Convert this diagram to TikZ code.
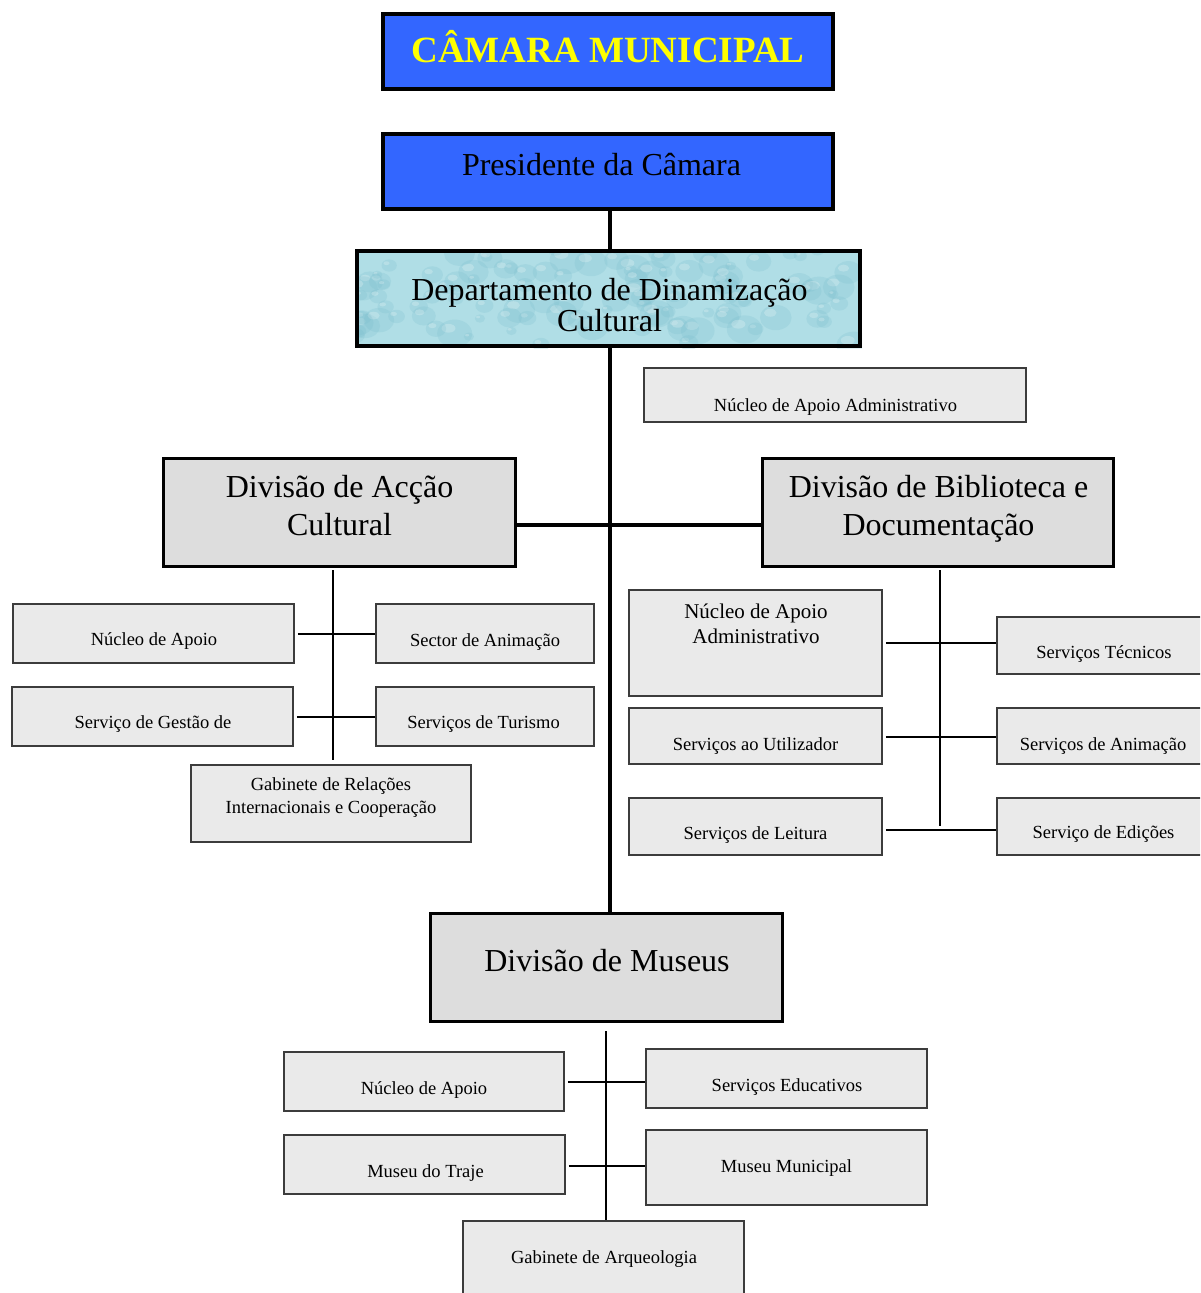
\documentclass[tikz,border=0pt]{standalone}
\usepackage{fontspec}
\setmainfont{Liberation Serif}
\definecolor{cmblue}{RGB}{51,102,255}
\definecolor{cmyellow}{RGB}{255,255,0}
\definecolor{boxgray}{RGB}{234,234,234}
\definecolor{divgray}{RGB}{221,221,221}
\definecolor{edgegray}{RGB}{60,60,60}
\definecolor{deptcyan}{RGB}{176,222,230}
\definecolor{deptdark}{RGB}{120,188,204}
\newcommand{\mlines}[1]{\begin{tabular}[t]{@{}c@{}}#1\end{tabular}}
\begin{document}
\begin{tikzpicture}[x=1pt,y=-1pt,
  topbox/.style={draw=black, line width=4pt, fill=cmblue, inner sep=0pt, minimum width=450pt, minimum height=75pt},
  divbox/.style={draw=black, line width=3.5pt, fill=divgray, inner sep=0pt, minimum width=352pt, minimum height=108pt},
  subbox/.style={draw=edgegray, line width=1.5pt, fill=boxgray, inner sep=0pt},
  txt/.style={inner sep=0pt, anchor=base},
  smallfont/.style={font=\fontsize{18.5}{23}\selectfont},
  bigfont/.style={font=\fontsize{32}{38}\selectfont},
  trunk/.style={draw=black, line width=4pt},
  link/.style={draw=black, line width=2pt}]
\useasboundingbox (0,0) rectangle (1200,1293);
\clip (0,0) rectangle (1200,1293);
\fill[white] (0,0) rectangle (1200,1293);

% ---- top boxes
\node[topbox] (cam) at (608,51.5) {};
\node[txt, text=cmyellow, font=\bfseries\fontsize{37}{44}\selectfont] (camt) at (608,62) {CÂMARA MUNICIPAL};
\node[topbox] (pres) at (608,171.5) {};
\node[txt, bigfont] (prest) at (601.5,175) {Presidente da Câmara};

% ---- department box with water texture
\begin{scope}
  \clip (355,249) rectangle (862,348);
  \fill[deptcyan] (355,249) rectangle (862,348);
  \pgfmathsetseed{11}
  \foreach \i in {1,...,110}{
    \pgfmathsetmacro{\cx}{355+507*rnd}
    \pgfmathsetmacro{\cy}{249+99*rnd}
    \pgfmathsetmacro{\rr}{5+13*rnd}
    \fill[deptdark, opacity=0.22] (\cx,\cy) ellipse ({\rr pt} and {0.8*\rr pt});
    \fill[white, opacity=0.22] (\cx-0.35*\rr,\cy-0.3*\rr) ellipse ({0.4*\rr pt} and {0.25*\rr pt});
  }
\end{scope}
\node[draw=black, line width=4pt, inner sep=0pt, minimum width=503pt, minimum height=95pt] (dept) at (608.5,298.5) {};
\node[txt, font=\fontsize{32}{29.5}\selectfont] (deptt) at (609.5,300) {\mlines{Departamento de Dinamização\\Cultural}};

\draw[trunk] (pres.south -| 610,0) -- (dept.north -| 610,0);

% ---- top support box
\node[subbox, minimum width=382pt, minimum height=54pt] (nap) at (835,395) {};
\node[txt, smallfont] (napt) at (835.5,411) {Núcleo de Apoio Administrativo};

% ---- divisions
\node[divbox] (dac) at (339.5,512.5) {};
\node[txt, bigfont] (dact) at (339.5,497) {\mlines{Divisão de Acção\\Cultural}};
\node[divbox, minimum width=351pt] (dbd) at (938,512.5) {};
\node[txt, bigfont] (dbdt) at (938.5,497) {\mlines{Divisão de Biblioteca e\\Documentação}};
\node[divbox] (mus) at (606.5,967.5) {};
\node[txt, bigfont] (must) at (607,971) {Divisão de Museus};

\draw[trunk] (dept.south -| 610,0) -- (mus.north -| 610,0);
\draw[trunk] ([yshift=-12.5pt]dac.east) -- ([yshift=-12.5pt]dbd.west);

% ---- Divisão de Acção Cultural subtree
\node[subbox, minimum width=281pt, minimum height=59pt] (l1) at (153.5,633.5) {};
\node[txt, smallfont] (l1t) at (154,645) {Núcleo de Apoio};
\node[subbox, minimum width=218pt, minimum height=59pt] (l2) at (485,633.5) {};
\node[txt, smallfont] (l2t) at (485,646) {Sector de Animação};
\node[subbox, minimum width=281pt, minimum height=59pt] (l3) at (152.5,716.5) {};
\node[txt, smallfont] (l3t) at (153,728) {Serviço de Gestão de};
\node[subbox, minimum width=218pt, minimum height=59pt] (l4) at (485,716.5) {};
\node[txt, smallfont] (l4t) at (483.5,728) {Serviços de Turismo};
\node[subbox, minimum width=280pt, minimum height=77pt] (l5) at (331,803.5) {};
\node[txt, smallfont] (l5t) at (331,790) {\mlines{Gabinete de Relações\\Internacionais e Cooperação}};

\coordinate (lvtop) at (333,570);
\coordinate (lvbot) at (333,760);
\draw[link] (lvtop) -- (lvbot);
\draw[link] ([xshift=3pt]l1.east) -- (l2.west);
\draw[link] ([xshift=3pt]l3.east) -- (l4.west);

% ---- Divisão de Biblioteca subtree
\node[subbox, minimum width=253pt, minimum height=106pt] (r1) at (755.5,643) {};
\node[txt, font=\fontsize{21}{25}\selectfont] (r1t) at (756,618) {\mlines{Núcleo de Apoio\\Administrativo}};
\node[subbox, minimum width=214pt, minimum height=57pt] (r2) at (1104,645.5) {};
\node[txt, smallfont] (r2t) at (1104,658) {Serviços Técnicos};
\node[subbox, minimum width=253pt, minimum height=56pt] (r3) at (755.5,736) {};
\node[txt, smallfont] (r3t) at (755.5,750) {Serviços ao Utilizador};
\node[subbox, minimum width=214pt, minimum height=56pt] (r4) at (1104,736) {};
\node[txt, smallfont] (r4t) at (1103,750) {Serviços de Animação};
\node[subbox, minimum width=253pt, minimum height=57pt] (r5) at (755.5,826.5) {};
\node[txt, smallfont] (r5t) at (755.5,839) {Serviços de Leitura};
\node[subbox, minimum width=214pt, minimum height=57pt] (r6) at (1104,826.5) {};
\node[txt, smallfont] (r6t) at (1103.5,838) {Serviço de Edições};

\coordinate (rvtop) at (940,570);
\coordinate (rvbot) at (940,826);
\draw[link] (rvtop) -- (rvbot);
\draw[link] ([xshift=3pt]r1.east) -- (r1.east -| r2.west);
\draw[link] ([xshift=3pt,yshift=-1pt]r3.east) -- ([yshift=-1pt]r4.west);
\draw[link] ([xshift=3pt,yshift=-3.5pt]r5.east) -- ([yshift=-3.5pt]r6.west);

% ---- Divisão de Museus subtree
\node[subbox, minimum width=280pt, minimum height=59pt] (m1) at (424,1081.5) {};
\node[txt, smallfont] (m1t) at (424,1094) {Núcleo de Apoio};
\node[subbox, minimum width=281pt, minimum height=59pt] (m2) at (786.5,1078.5) {};
\node[txt, smallfont] (m2t) at (787,1091) {Serviços Educativos};
\node[subbox, minimum width=281pt, minimum height=59pt] (m3) at (424.5,1164.5) {};
\node[txt, smallfont] (m3t) at (425.5,1177) {Museu do Traje};
\node[subbox, minimum width=281pt, minimum height=75pt] (m4) at (786.5,1167.5) {};
\node[txt, smallfont] (m4t) at (786.5,1172) {Museu Municipal};
\node[subbox, minimum width=281pt, minimum height=75pt] (m5) at (603.5,1258.5) {};
\node[txt, smallfont] (m5t) at (604,1263) {Gabinete de Arqueologia};

\coordinate (mvtop) at (606,1031);
\draw[link] (mvtop) -- (mvtop |- m5.north);
\draw[link] ([xshift=3pt]m1.east) -- (m1.east -| m2.west);
\draw[link] ([xshift=3pt,yshift=-1.5pt]m3.east) -- ([yshift=-1.5pt]m3.east -| m4.west);
\end{tikzpicture}
\end{document}
